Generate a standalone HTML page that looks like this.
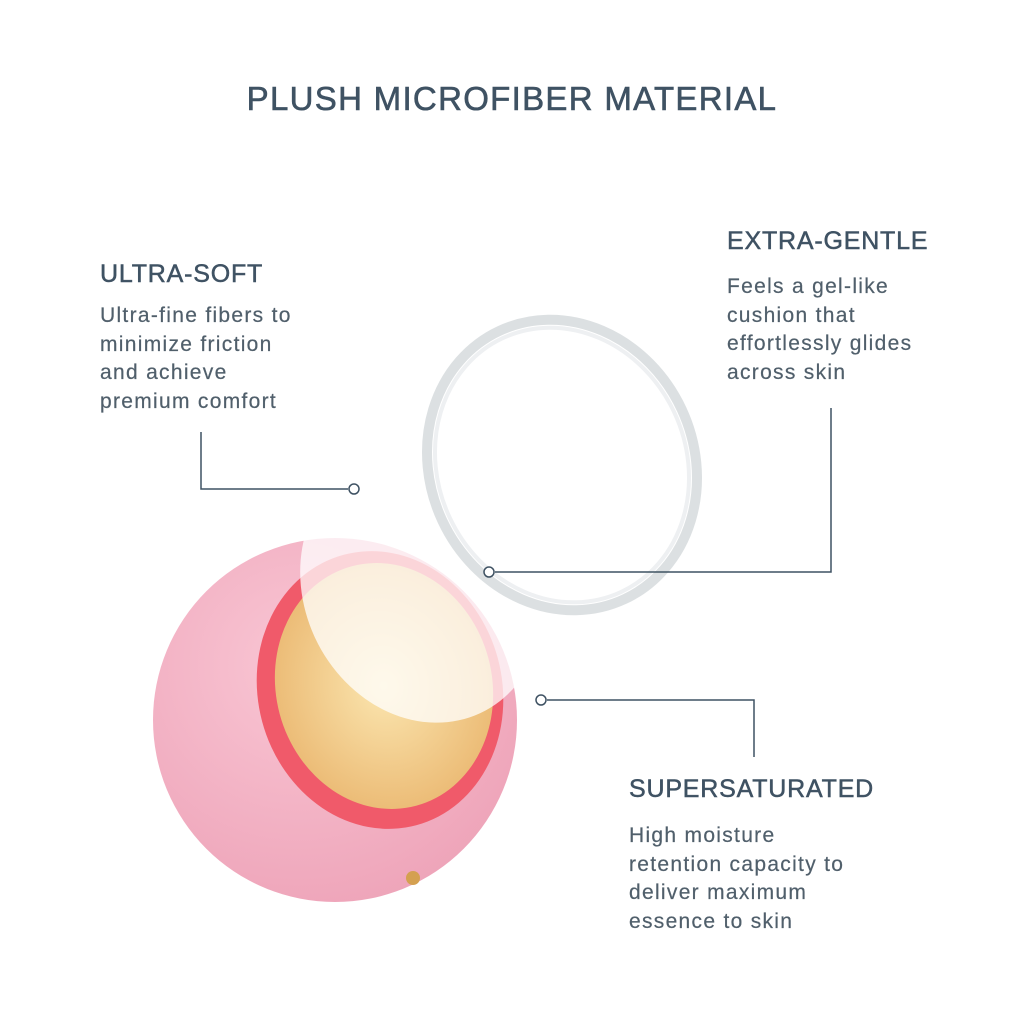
<!DOCTYPE html>
<html><head><meta charset="utf-8"><style>
body{margin:0;width:1024px;height:1024px;background:#fff;position:relative;overflow:hidden;font-family:"Liberation Sans",sans-serif;color:#3f5263}
.t{position:absolute;white-space:nowrap}
h1{position:absolute;top:80px;left:0;width:1024px;text-align:center;margin:0;font-size:33px;font-weight:normal;letter-spacing:1.3px;color:#3f5263;-webkit-text-stroke:0.6px #3f5263}
.h{font-size:25px;letter-spacing:0.8px;-webkit-text-stroke:0.5px #3f5263}
.b{font-size:21px;line-height:28.5px;color:#505f6b;letter-spacing:1.3px;-webkit-text-stroke:0.2px #505f6b}
</style></head><body>
<h1>PLUSH MICROFIBER MATERIAL</h1>
<svg width="1024" height="1024" style="position:absolute;left:0;top:0">
<defs>
<radialGradient id="pk" cx="0.4" cy="0.35" r="0.7"><stop offset="0" stop-color="#f9c6d4"/><stop offset="1" stop-color="#eea4b9"/></radialGradient>
<radialGradient id="og" cx="0.5" cy="0.5" r="0.6"><stop offset="0" stop-color="#fbe6b0"/><stop offset="1" stop-color="#e9b46c"/></radialGradient>
</defs>
<circle cx="335" cy="720" r="182" fill="url(#pk)"/>
<ellipse cx="380" cy="690" rx="122" ry="140" transform="rotate(-15 380 690)" fill="#f05a6a"/>
<ellipse cx="384" cy="686" rx="108" ry="124" transform="rotate(-15 384 686)" fill="url(#og)"/>
<ellipse cx="422" cy="588" rx="118" ry="138" transform="rotate(-25 422 588)" fill="#fff" opacity="0.75"/>
<ellipse cx="562" cy="465" rx="132" ry="148" transform="rotate(-25 562 465)" fill="none" stroke="#d6dadd" stroke-width="10" opacity="0.85"/>
<ellipse cx="562" cy="465" rx="124" ry="140" transform="rotate(-25 562 465)" fill="none" stroke="#eef0f2" stroke-width="4"/>
<circle cx="413" cy="878" r="7" fill="#d4a050"/>
<g fill="none" stroke="#3f5263" stroke-width="1.5">
<polyline points="201,432 201,489 348,489"/>
<circle cx="354" cy="489" r="5" fill="#fff"/>
<polyline points="495,572 831,572 831,408"/>
<circle cx="489" cy="572" r="5" fill="#fff"/>
<polyline points="547,700 754,700 754,757"/>
<circle cx="541" cy="700" r="5" fill="#fff"/>
</g>
</svg>
<div class="t h" style="left:100px;top:260px">ULTRA-SOFT</div>
<div class="t b" style="left:100px;top:302px">Ultra-fine fibers to<br>minimize friction<br>and achieve<br>premium comfort</div>
<div class="t h" style="left:727px;top:227px">EXTRA-GENTLE</div>
<div class="t b" style="left:727px;top:273px">Feels a gel-like<br>cushion that<br>effortlessly glides<br>across skin</div>
<div class="t h" style="left:629px;top:775px">SUPERSATURATED</div>
<div class="t b" style="left:629px;top:822px">High moisture<br>retention capacity to<br>deliver maximum<br>essence to skin</div>
</body></html>
